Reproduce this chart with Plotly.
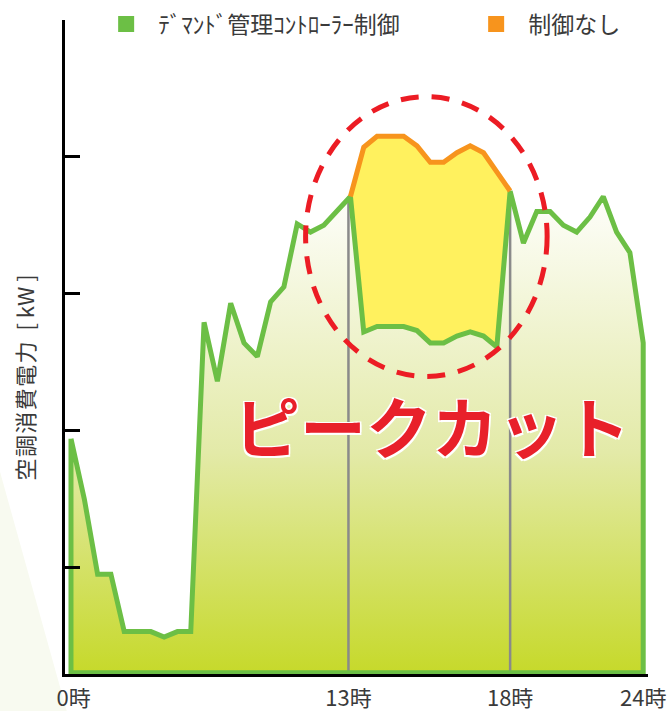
import plotly.graph_objects as go

# ---- data (sample index along the day, power in relative kW units) ----
idx = list(range(44))
demand_controlled = [17.2, 12.8, 7.3, 7.3, 3.1, 3.1, 3.1, 2.7, 3.1, 3.1,
                     25.7, 21.4, 27.1, 24.2, 23.2, 27.2, 28.3, 32.9, 32.3, 32.8,
                     33.9, 34.9, 25.0, 25.4, 25.4, 25.4, 25.1, 24.2, 24.2, 24.7,
                     25.0, 24.7, 23.9, 35.3, 31.5, 33.8, 33.8, 32.8, 32.3, 33.4,
                     34.9, 32.3, 30.8, 24.2]
peak_idx = list(range(21, 34))
no_control = [34.9, 38.5, 39.3, 39.3, 39.3, 38.6, 37.4, 37.4, 38.1, 38.6,
              38.1, 36.7, 35.3]
baseline = 0.1
tick_pos = [0.2, 20.85, 33, 43]
tick_text = ["0時", "13時", "18時", "24時"]
y_ticks = [7.8, 17.8, 27.8, 37.8, 47.8]
marker_13 = (20.85, 34.9)
marker_18 = (33, 35.3)

GREEN = "#6cbf45"
ORANGE = "#f7941d"
YELLOW = "#fff15e"
RED = "#ec1c24"
GRAY = "#8a8a8a"
TXT = "#3a3a3a"
FONT = "Noto Sans CJK JP"

fig = go.Figure()

# gradient filled area under the controlled curve
poly_x = idx + [idx[-1], idx[0]]
poly_y = demand_controlled + [baseline, baseline]
fig.add_trace(go.Scatter(
    x=poly_x, y=poly_y, mode="lines", fill="toself", line=dict(width=0),
    fillgradient=dict(type="vertical", start=0, stop=36,
                      colorscale=[[0, "#c6d92a"], [0.45, "#e3eaa8"], [1, "#ffffff"]]),
    showlegend=False, hoverinfo="skip"))

# peak-cut region (yellow)
gdip = demand_controlled[21:34]
fig.add_trace(go.Scatter(
    x=peak_idx + peak_idx[::-1], y=no_control + gdip[::-1], mode="lines",
    fill="toself", fillcolor=YELLOW, line=dict(width=0),
    showlegend=False, hoverinfo="skip"))

# gray markers at 13時 and 18時
for mx, my in (marker_13, marker_18):
    fig.add_trace(go.Scatter(x=[mx, mx], y=[baseline, my], mode="lines",
                             line=dict(color=GRAY, width=2.5),
                             showlegend=False, hoverinfo="skip"))

# outline of controlled curve
fig.add_trace(go.Scatter(
    x=idx + [idx[-1], idx[0], idx[0]],
    y=demand_controlled + [baseline, baseline, demand_controlled[0]],
    mode="lines", line=dict(color=GREEN, width=5), showlegend=False,
    hoverinfo="skip"))

# uncontrolled curve
fig.add_trace(go.Scatter(x=peak_idx, y=no_control, mode="lines",
                         line=dict(color=ORANGE, width=5), showlegend=False,
                         hoverinfo="skip"))

# legend entries
fig.add_trace(go.Scatter(x=[None], y=[None], mode="markers",
                         marker=dict(symbol="square", size=20, color=GREEN),
                         name="ﾃﾞﾏﾝﾄﾞ管理ｺﾝﾄﾛｰﾗｰ制御", legendwidth=301))
fig.add_trace(go.Scatter(x=[None], y=[None], mode="markers",
                         marker=dict(symbol="square", size=20, color=ORANGE),
                         name="制御なし", legendwidth=100))

# dashed ellipse around the peak
fig.add_shape(type="circle", xref="x", yref="y", x0=17.63, x1=35.78,
              y0=21.75, y1=42.2, line=dict(color=RED, width=5, dash="18px,13px"),
              layer="above")

# faint background decoration
fig.add_shape(type="path", xref="paper", yref="paper",
              path="M -0.1115 0.30 L 0.003 -0.055 L -0.1115 -0.055 Z",
              fillcolor="#f8faf0", line=dict(width=0), layer="below")

fig.add_annotation(x=27.16, y=18.3, xref="x", yref="y", text="ピークカット",
                   showarrow=False,
                   font=dict(family=FONT, size=66, color="#e8202a", weight="bold",
                             shadow="1.5px 1.5px 0 #fff, -1.5px -1.5px 0 #fff, 1.5px -1.5px 0 #fff, -1.5px 1.5px 0 #fff"))

# y-axis title
ytitle = "\u200a".join("空調消費電力") + "\u2002[ kW ]"
fig.add_annotation(x=-0.0703, y=0.44, xref="paper", yref="paper", text=ytitle,
                   textangle=-90, showarrow=False, xanchor="center", yanchor="middle",
                   font=dict(family=FONT, size=22, color=TXT))

fig.update_layout(
    width=668, height=711,
    margin=dict(l=65, r=20, t=0, b=37, autoexpand=False),
    paper_bgcolor="white", plot_bgcolor="rgba(0,0,0,0)",
    font=dict(family=FONT, color=TXT),
    showlegend=True,
    legend=dict(orientation="h", x=0.05, y=0.9644, xanchor="left", yanchor="middle",
                font=dict(size=23, color=TXT), bgcolor="rgba(0,0,0,0)",
                itemwidth=54),
    xaxis=dict(range=[-0.45, 43.36], showgrid=False, zeroline=False,
               showline=True, linecolor="black", linewidth=3, layer="below traces",
               tickvals=tick_pos, ticktext=tick_text, ticks="",
               ticklabelstandoff=3,
               tickfont=dict(size=22, color=TXT), fixedrange=True),
    yaxis=dict(range=[0, 47.8], domain=[0, 0.9703], showgrid=False, zeroline=False,
               showline=True, linecolor="black", linewidth=3,
               tickvals=y_ticks, ticks="inside", ticklen=15, tickwidth=3,
               tickcolor="black", showticklabels=False, fixedrange=True),
    hovermode=False,
)

fig.write_html("out.html", config={"displayModeBar": False},
               post_script="document.body.style.margin='0';document.body.style.overflow='hidden';")
